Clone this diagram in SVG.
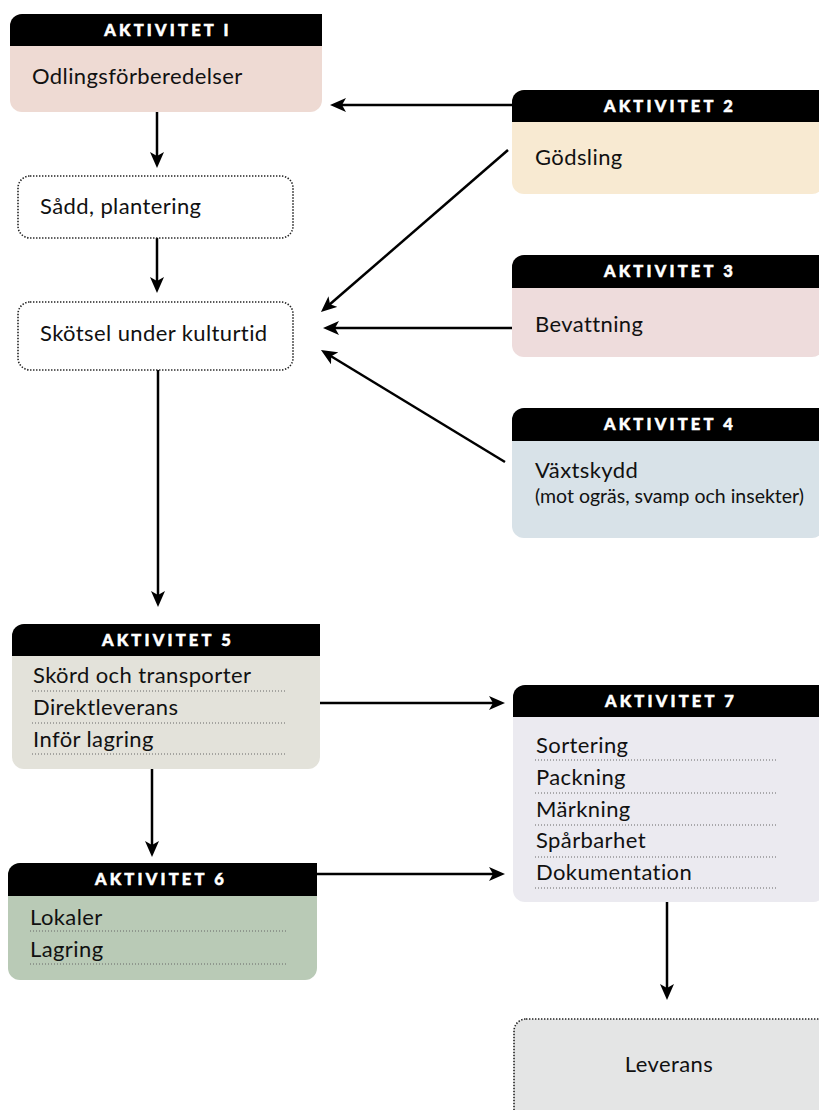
<svg xmlns="http://www.w3.org/2000/svg" width="819" height="1110" viewBox="0 0 819 1110">
<style>
.hdr{fill:#000}
.ht{font-family:Lato,"Open Sans","Liberation Sans",sans-serif;font-weight:900;font-size:16.5px;letter-spacing:3.2px;fill:#fff;stroke:#fff;stroke-width:0.5;text-anchor:middle}
.t{font-family:Lato,"Open Sans","Liberation Sans",sans-serif;font-size:22px;letter-spacing:0.4px;fill:#111}
.s{font-family:Lato,"Open Sans","Liberation Sans",sans-serif;font-size:19.5px;fill:#111}
.dl{stroke:#666;stroke-width:1;stroke-dasharray:1 2;fill:none}
.db{fill:#fff;stroke:#222;stroke-width:1.6;stroke-dasharray:1.4 1.6}
.c{stroke:#000;stroke-width:2.5;fill:none;marker-end:url(#ah)}
</style>
<defs>
<marker id="ah" viewBox="0 0 16 14" refX="8" refY="7" markerWidth="16" markerHeight="14" markerUnits="userSpaceOnUse" orient="auto">
<path d="M0,0 L16,7 L0,14 L4,7 Z" fill="#000"/>
</marker>
</defs>

<g id="connectors">
<line class="c" x1="157" y1="112" x2="157" y2="160"/>
<line class="c" x1="157" y1="238" x2="157" y2="285"/>
<line class="c" x1="158" y1="370" x2="158" y2="599"/>
<line class="c" x1="512" y1="105" x2="338" y2="105"/>
<line class="c" x1="508" y1="150" x2="327" y2="306.8"/>
<line class="c" x1="512" y1="328" x2="331" y2="328"/>
<line class="c" x1="505" y1="462" x2="327.8" y2="354.2"/>
<line class="c" x1="152" y1="769" x2="152" y2="849"/>
<line class="c" x1="320" y1="703" x2="497" y2="703"/>
<line class="c" x1="317" y1="874" x2="497" y2="874"/>
<line class="c" x1="667" y1="902" x2="667" y2="992"/>
</g>

<g id="akt1">
<path d="M22,14 H322 V100 A12,12 0 0 1 310,112 H22 A12,12 0 0 1 10,100 V26 A12,12 0 0 1 22,14 Z" fill="#eedad3"/>
<path class="hdr" d="M22,14 H322 V46 H10 V26 A12,12 0 0 1 22,14 Z"/>
<text class="ht" x="168" y="36">AKTIVITET I</text>
<text class="t" x="32" y="84">Odlingsförberedelser</text>
</g>

<g id="sadd">
<rect class="db" x="18" y="176" width="275" height="62" rx="12"/>
<text class="t" x="40" y="214">Sådd, plantering</text>
</g>

<g id="skotsel">
<rect class="db" x="18" y="302" width="275" height="68" rx="12"/>
<text class="t" x="40" y="341">Skötsel under kulturtid</text>
</g>

<g id="akt2">
<path d="M524,90 H824 V182 A12,12 0 0 1 812,194 H524 A12,12 0 0 1 512,182 V102 A12,12 0 0 1 524,90 Z" fill="#f8ead2"/>
<path class="hdr" d="M524,90 H824 V122 H512 V102 A12,12 0 0 1 524,90 Z"/>
<text class="ht" x="670" y="112">AKTIVITET 2</text>
<text class="t" x="535" y="165">Gödsling</text>
</g>

<g id="akt3">
<path d="M524,255 H824 V345 A12,12 0 0 1 812,357 H524 A12,12 0 0 1 512,345 V267 A12,12 0 0 1 524,255 Z" fill="#eedcdc"/>
<path class="hdr" d="M524,255 H824 V288 H512 V267 A12,12 0 0 1 524,255 Z"/>
<text class="ht" x="670" y="277">AKTIVITET 3</text>
<text class="t" x="535" y="332">Bevattning</text>
</g>

<g id="akt4">
<path d="M524,408 H824 V526 A12,12 0 0 1 812,538 H524 A12,12 0 0 1 512,526 V420 A12,12 0 0 1 524,408 Z" fill="#d8e2e8"/>
<path class="hdr" d="M524,408 H824 V441 H512 V420 A12,12 0 0 1 524,408 Z"/>
<text class="ht" x="670" y="430">AKTIVITET 4</text>
<text class="t" x="535" y="478">Växtskydd</text>
<text class="s" x="535" y="503">(mot ogräs, svamp och insekter)</text>
</g>

<g id="akt5">
<path d="M24,624 H320 V757 A12,12 0 0 1 308,769 H24 A12,12 0 0 1 12,757 V636 A12,12 0 0 1 24,624 Z" fill="#e3e2da"/>
<path class="hdr" d="M24,624 H320 V656 H12 V636 A12,12 0 0 1 24,624 Z"/>
<text class="ht" x="168" y="646">AKTIVITET 5</text>
<text class="t" x="33" y="683">Skörd och transporter</text>
<line class="dl" x1="32" y1="691" x2="287" y2="691"/>
<text class="t" x="33" y="715">Direktleverans</text>
<line class="dl" x1="32" y1="723" x2="287" y2="723"/>
<text class="t" x="33" y="747">Inför lagring</text>
<line class="dl" x1="32" y1="754" x2="287" y2="754"/>
</g>

<g id="akt6">
<path d="M20,863 H317 V968 A12,12 0 0 1 305,980 H20 A12,12 0 0 1 8,968 V875 A12,12 0 0 1 20,863 Z" fill="#b9cab6"/>
<path class="hdr" d="M20,863 H317 V896 H8 V875 A12,12 0 0 1 20,863 Z"/>
<text class="ht" x="161" y="885">AKTIVITET 6</text>
<text class="t" x="30" y="925">Lokaler</text>
<line class="dl" x1="30" y1="931" x2="287" y2="931"/>
<text class="t" x="30" y="957">Lagring</text>
<line class="dl" x1="30" y1="964" x2="287" y2="964"/>
</g>

<g id="akt7">
<path d="M525,685 H825 V890 A12,12 0 0 1 813,902 H525 A12,12 0 0 1 513,890 V697 A12,12 0 0 1 525,685 Z" fill="#ebeaf0"/>
<path class="hdr" d="M525,685 H825 V717 H513 V697 A12,12 0 0 1 525,685 Z"/>
<text class="ht" x="671" y="707">AKTIVITET 7</text>
<text class="t" x="536" y="753">Sortering</text>
<line class="dl" x1="535" y1="760" x2="776" y2="760"/>
<text class="t" x="536" y="785">Packning</text>
<line class="dl" x1="535" y1="793" x2="776" y2="793"/>
<text class="t" x="536" y="817">Märkning</text>
<line class="dl" x1="535" y1="825" x2="776" y2="825"/>
<text class="t" x="536" y="848">Spårbarhet</text>
<line class="dl" x1="535" y1="857" x2="776" y2="857"/>
<text class="t" x="536" y="880">Dokumentation</text>
<line class="dl" x1="535" y1="888" x2="776" y2="888"/>
</g>

<g id="leverans">
<rect x="514" y="1019" width="320" height="110" rx="12" fill="#e4e5e5" stroke="#222" stroke-width="1.6" stroke-dasharray="1.4 1.6"/>
<text class="t" x="669" y="1072" text-anchor="middle">Leverans</text>
</g>
</svg>
